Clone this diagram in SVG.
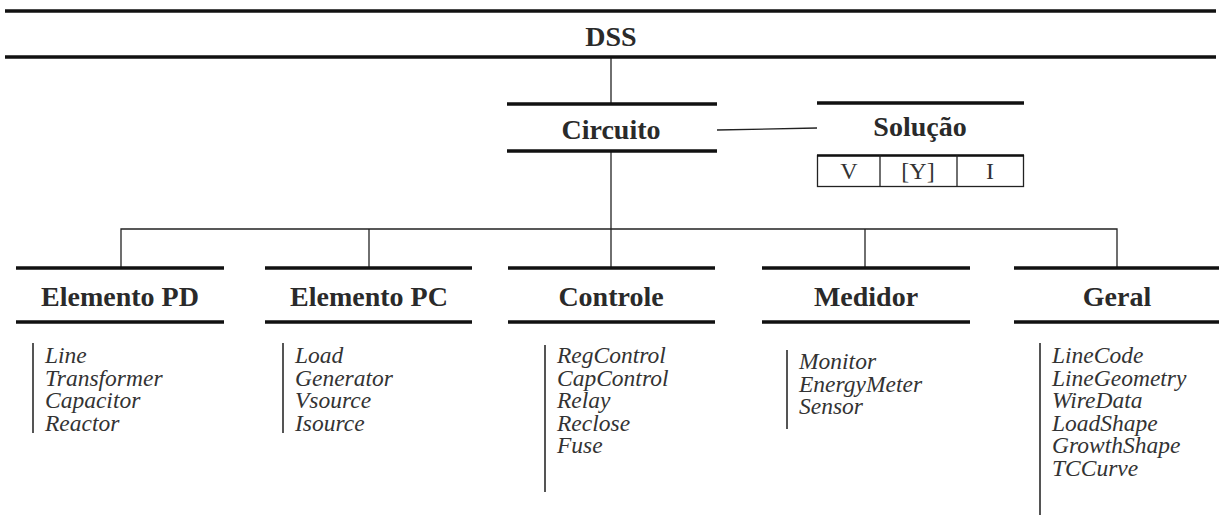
<svg xmlns="http://www.w3.org/2000/svg" width="1219" height="519" viewBox="0 0 1219 519">
<style>
.bar{stroke:#111;stroke-width:3.5;fill:none}
.con{stroke:#222;stroke-width:1.3;fill:none}
.side{stroke:#555;stroke-width:2;fill:none}
.h{font-family:"Liberation Serif","Times New Roman",serif;font-weight:bold;font-size:28px;fill:#2a2a2a;text-anchor:middle}
.it{font-family:"Liberation Serif","Times New Roman",serif;font-style:italic;font-size:23.5px;fill:#333}
.r{font-family:"Liberation Serif","Times New Roman",serif;font-size:24px;fill:#333;text-anchor:middle}
.box{stroke:#222;stroke-width:1.3;fill:none}
</style>
<rect width="1219" height="519" fill="#fff"/>
<g id="connectors">
<line class="con" x1="611" y1="57" x2="611" y2="104"/>
<line class="con" x1="611" y1="151" x2="611" y2="229"/>
<line class="con" x1="717" y1="130" x2="817" y2="128"/>
<polyline class="con" points="121,268 121,229 1117,229 1117,268"/>
<line class="con" x1="369" y1="229" x2="369" y2="268"/>
<line class="con" x1="865" y1="229" x2="865" y2="268"/>
<line class="con" x1="611" y1="229" x2="611" y2="268"/>
</g>
<g id="dss">
<line class="bar" x1="5" y1="11" x2="1216" y2="11"/>
<line class="bar" x1="5" y1="57" x2="1216" y2="57"/>
<text class="h" x="611" y="46">DSS</text>
</g>
<g id="circuito">
<line class="bar" x1="507" y1="104" x2="717" y2="104"/>
<line class="bar" x1="507" y1="151" x2="717" y2="151"/>
<text class="h" x="611" y="139">Circuito</text>
</g>
<g id="solucao">
<line class="bar" x1="817" y1="103" x2="1024" y2="103"/>
<text class="h" x="920" y="136">Solução</text>
<rect class="box" x="817.5" y="155.5" width="206" height="31"/>
<line stroke="#111" stroke-width="2.5" x1="817" y1="155.5" x2="1024" y2="155.5"/>
<line class="box" x1="880" y1="155" x2="880" y2="187"/>
<line class="box" x1="957" y1="155" x2="957" y2="187"/>
<text class="r" x="849" y="179">V</text>
<text class="r" x="918" y="179">[Y]</text>
<text class="r" x="990" y="179">I</text>
</g>
<g id="elemento-pd">
<line class="bar" x1="16" y1="268" x2="224" y2="268"/>
<line class="bar" x1="16" y1="322" x2="224" y2="322"/>
<text class="h" x="120" y="306">Elemento PD</text>
<line class="side" x1="33" y1="343" x2="33" y2="433"/>
<text class="it" x="45" y="363">Line</text>
<text class="it" x="45" y="385.5">Transformer</text>
<text class="it" x="45" y="408">Capacitor</text>
<text class="it" x="45" y="430.5">Reactor</text>
</g>
<g id="elemento-pc">
<line class="bar" x1="265" y1="268" x2="472" y2="268"/>
<line class="bar" x1="265" y1="322" x2="472" y2="322"/>
<text class="h" x="369" y="306">Elemento PC</text>
<line class="side" x1="283" y1="343" x2="283" y2="433"/>
<text class="it" x="295" y="363">Load</text>
<text class="it" x="295" y="385.5">Generator</text>
<text class="it" x="295" y="408">Vsource</text>
<text class="it" x="295" y="430.5">Isource</text>
</g>
<g id="controle">
<line class="bar" x1="508" y1="268" x2="715" y2="268"/>
<line class="bar" x1="508" y1="322" x2="715" y2="322"/>
<text class="h" x="611" y="306">Controle</text>
<line class="side" x1="545" y1="345" x2="545" y2="492"/>
<text class="it" x="557" y="363">RegControl</text>
<text class="it" x="557" y="385.5">CapControl</text>
<text class="it" x="557" y="408">Relay</text>
<text class="it" x="557" y="430.5">Reclose</text>
<text class="it" x="557" y="453">Fuse</text>
</g>
<g id="medidor">
<line class="bar" x1="762" y1="268" x2="970" y2="268"/>
<line class="bar" x1="762" y1="322" x2="970" y2="322"/>
<text class="h" x="866" y="306">Medidor</text>
<line class="side" x1="787" y1="350" x2="787" y2="429"/>
<text class="it" x="799" y="369">Monitor</text>
<text class="it" x="799" y="391.5">EnergyMeter</text>
<text class="it" x="799" y="414">Sensor</text>
</g>
<g id="geral">
<line class="bar" x1="1014" y1="268" x2="1219" y2="268"/>
<line class="bar" x1="1014" y1="322" x2="1219" y2="322"/>
<text class="h" x="1117" y="306">Geral</text>
<line class="side" x1="1040" y1="343" x2="1040" y2="515"/>
<text class="it" x="1052" y="363">LineCode</text>
<text class="it" x="1052" y="385.5">LineGeometry</text>
<text class="it" x="1052" y="408">WireData</text>
<text class="it" x="1052" y="430.5">LoadShape</text>
<text class="it" x="1052" y="453">GrowthShape</text>
<text class="it" x="1052" y="475.5">TCCurve</text>
</g>
</svg>
